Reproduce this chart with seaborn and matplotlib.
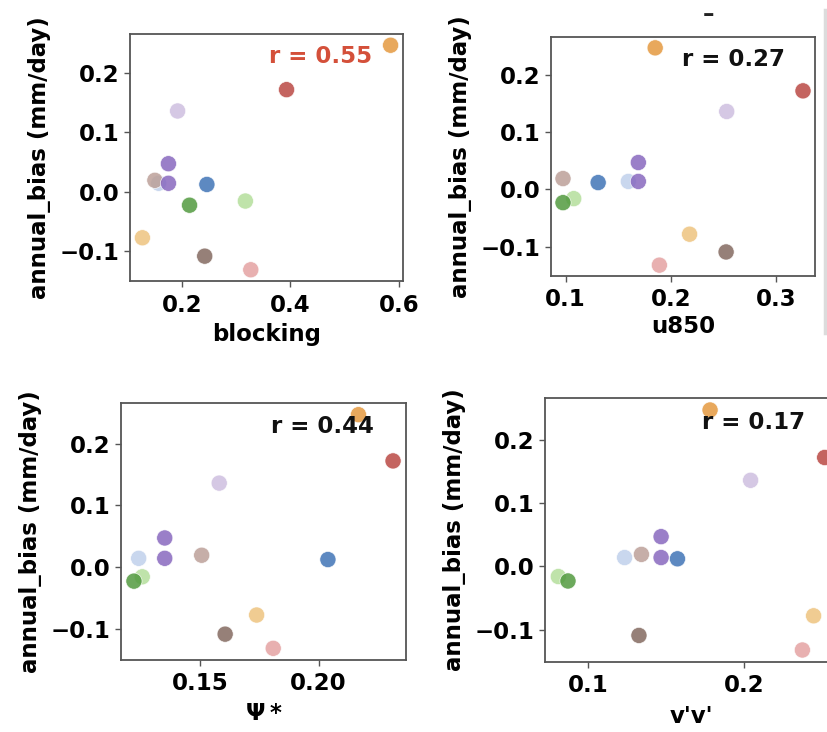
import matplotlib
matplotlib.use("Agg")
import matplotlib.pyplot as plt
import pandas as pd
import seaborn as sns
from matplotlib.lines import Line2D

# One entry per model, same order in every array
models = ["M01", "M02", "M03", "M04", "M05", "M06", "M07",
          "M08", "M09", "M10", "M11", "M12", "M13"]
model_colors = ["#4074b7", "#c0d0eb", "#e5993f", "#eec47f", "#b4de9b",
                "#529a3f", "#ba4944", "#e5a3a3", "#cebfe0", "#846a60",
                "#bca099", "#8869bf", "#8869bf"]

annual_bias = [0.012, 0.014, 0.247, -0.078, -0.016, -0.023, 0.172,
               -0.132, 0.136, -0.109, 0.019, 0.047, 0.014]
blocking = [0.246, 0.157, 0.585, 0.127, 0.317, 0.214, 0.393,
            0.327, 0.192, 0.242, 0.150, 0.175, 0.175]
u850 = [0.1308, 0.1595, 0.185, 0.2177, 0.1076, 0.0974, 0.3255,
        0.189, 0.253, 0.2524, 0.0974, 0.169, 0.169]
psi_star = [0.2039, 0.124, 0.2168, 0.1738, 0.1255, 0.122, 0.2314,
            0.1808, 0.158, 0.1605, 0.1506, 0.135, 0.135]
vv = [0.1571, 0.1232, 0.178, 0.2444, 0.0807, 0.0869, 0.2515,
      0.2372, 0.204, 0.1324, 0.134, 0.1466, 0.1466]

x_labels = ["blocking", "u850", r"$\mathbf{\Psi*}$", "v'v'"]
x_ticks = [[0.2, 0.4, 0.6], [0.1, 0.2, 0.3], [0.15, 0.20], [0.1, 0.2]]
y_ticks = [-0.1, 0.0, 0.1, 0.2]
r_values = ["0.55", "0.27", "0.44", "0.17"]
r_colors = ["#d4503a", "#111111", "#111111", "#111111"]

plt.rcParams.update({
    "font.family": ["DejaVu Sans"],
    "font.weight": "bold",
    "axes.labelweight": "bold",
    "font.size": 16.5,
    "mathtext.default": "bf",
})

df = pd.DataFrame({
    "model": models,
    "annual_bias": annual_bias,
    "blocking": blocking,
    "u850": u850,
    "psi_star": psi_star,
    "vv": vv,
})
palette = dict(zip(models, model_colors))

W, H = 828, 732
fig = plt.figure(figsize=(W / 100, H / 100), dpi=100)
fig.patch.set_facecolor("white")


def px_axes(left, right, top, bottom):
    return fig.add_axes([left / W, 1 - bottom / H, (right - left) / W, (bottom - top) / H])


boxes = [(130, 403, 34, 281), (551, 815, 37, 276),
         (121, 406, 403, 660), (545, 838, 398, 662)]
x_cols = ["blocking", "u850", "psi_star", "vv"]
x_labelpads = [4.5, 2.5, 5.0, 5.5]

for box, xcol, xlab, xt, lp, rv, rc in zip(boxes, x_cols, x_labels, x_ticks,
                                           x_labelpads, r_values, r_colors):
    ax = px_axes(*box)
    sns.scatterplot(data=df, x=xcol, y="annual_bias", hue="model", palette=palette,
                    s=135, alpha=0.85, edgecolor="white", linewidth=0.5,
                    legend=False, ax=ax)
    ax.set_xticks(xt)
    ax.set_yticks(y_ticks)
    ax.set_xlabel(xlab, fontsize=16.5, fontweight="bold", labelpad=lp)
    ax.set_ylabel("annual_bias (mm/day)", fontsize=16.5, fontweight="bold", labelpad=6)
    ax.tick_params(axis="both", which="major", labelsize=16.5, length=4, width=1,
                   color="#555555", bottom=True, left=True)
    ax.tick_params(axis="x", pad=5)
    for lbl in ax.get_xticklabels() + ax.get_yticklabels():
        lbl.set_fontweight("bold")
    for sp in ax.spines.values():
        sp.set_color("#555555")
        sp.set_linewidth(1.3)
    ax.text(0.887, 0.907, f"r = {rv}", transform=ax.transAxes, ha="right", va="center",
            color=rc, fontsize=16.5, fontweight="bold")

# fragment of a heading above the upper-right panel
fig.text(709 / W, 1 - 15 / H, "–", ha="center", va="center", fontsize=16.5,
         fontweight="bold", color="#222222")
# edge of the neighbouring panel
fig.add_artist(Line2D([825 / W, 825 / W], [1 - 10 / H, 1 - 333 / H],
                      transform=fig.transFigure, color="#dcdcdc", linewidth=2.5))

fig.savefig("out.png", dpi=100, facecolor="white")
